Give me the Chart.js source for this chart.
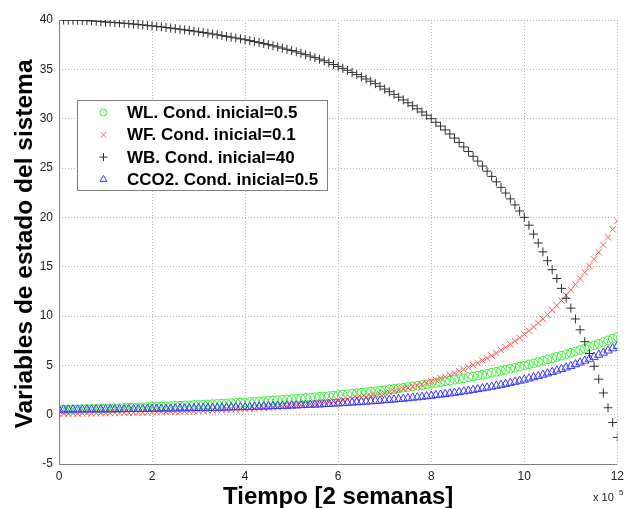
<!DOCTYPE html>
<html lang="es">
<head>
<meta charset="UTF-8">
<title>Variables de estado del sistema</title>
<script src="https://cdn.jsdelivr.net/npm/chart.js@4.4.0/dist/chart.umd.min.js"></script>
<style>
    html, body { margin: 0; padding: 0; background: #ffffff; }
    #grafica { display: block; }
</style>
</head>
<body>
<canvas id="grafica" width="629" height="508"></canvas>
<script>
// tiempo en unidades de 1e5 (2 semanas)
const tiempo = [
    0.0, 0.1, 0.2, 0.3, 0.4, 0.5, 0.6, 0.7, 0.8, 0.9,
    1.0, 1.1, 1.2, 1.3, 1.4, 1.5, 1.6, 1.7, 1.8, 1.9,
    2.0, 2.1, 2.2, 2.3, 2.4, 2.5, 2.6, 2.7, 2.8, 2.9,
    3.0, 3.1, 3.2, 3.3, 3.4, 3.5, 3.6, 3.7, 3.8, 3.9,
    4.0, 4.1, 4.2, 4.3, 4.4, 4.5, 4.6, 4.7, 4.8, 4.9,
    5.0, 5.1, 5.2, 5.3, 5.4, 5.5, 5.6, 5.7, 5.8, 5.9,
    6.0, 6.1, 6.2, 6.3, 6.4, 6.5, 6.6, 6.7, 6.8, 6.9,
    7.0, 7.1, 7.2, 7.3, 7.4, 7.5, 7.6, 7.7, 7.8, 7.9,
    8.0, 8.1, 8.2, 8.3, 8.4, 8.5, 8.6, 8.7, 8.8, 8.9,
    9.0, 9.1, 9.2, 9.3, 9.4, 9.5, 9.6, 9.7, 9.8, 9.9,
    10.0, 10.1, 10.2, 10.3, 10.4, 10.5, 10.6, 10.7, 10.8, 10.9,
    11.0, 11.1, 11.2, 11.3, 11.4, 11.5, 11.6, 11.7, 11.8, 11.9,
    12.0
];

const serieWL = [
    0.50, 0.51, 0.52, 0.54, 0.55, 0.56, 0.57, 0.59, 0.60, 0.61,
    0.63, 0.64, 0.66, 0.67, 0.69, 0.71, 0.72, 0.74, 0.76, 0.77,
    0.79, 0.81, 0.83, 0.85, 0.87, 0.89, 0.91, 0.93, 0.95, 0.97,
    1.00, 1.02, 1.04, 1.07, 1.09, 1.12, 1.14, 1.17, 1.20, 1.22,
    1.25, 1.28, 1.31, 1.34, 1.37, 1.41, 1.44, 1.47, 1.51, 1.54,
    1.58, 1.61, 1.65, 1.69, 1.73, 1.77, 1.81, 1.85, 1.89, 1.94,
    1.98, 2.03, 2.08, 2.13, 2.17, 2.23, 2.28, 2.33, 2.38, 2.44,
    2.50, 2.55, 2.61, 2.68, 2.74, 2.80, 2.87, 2.93, 3.00, 3.07,
    3.14, 3.22, 3.29, 3.37, 3.45, 3.53, 3.61, 3.69, 3.78, 3.87,
    3.96, 4.05, 4.14, 4.24, 4.34, 4.44, 4.54, 4.65, 4.75, 4.87,
    4.98, 5.09, 5.21, 5.33, 5.46, 5.59, 5.72, 5.85, 5.98, 6.12,
    6.27, 6.41, 6.56, 6.71, 6.87, 7.03, 7.19, 7.36, 7.53, 7.71,
    7.89
];

const serieWF = [
    0.10, 0.10, 0.11, 0.11, 0.12, 0.13, 0.13, 0.14, 0.14, 0.15,
    0.16, 0.16, 0.17, 0.18, 0.19, 0.19, 0.20, 0.21, 0.22, 0.23,
    0.24, 0.25, 0.26, 0.28, 0.29, 0.30, 0.31, 0.33, 0.34, 0.36,
    0.37, 0.39, 0.41, 0.43, 0.45, 0.47, 0.49, 0.51, 0.53, 0.56,
    0.58, 0.61, 0.63, 0.66, 0.69, 0.72, 0.76, 0.79, 0.83, 0.86,
    0.90, 0.94, 0.99, 1.03, 1.08, 1.12, 1.17, 1.23, 1.28, 1.34,
    1.40, 1.46, 1.53, 1.60, 1.67, 1.75, 1.82, 1.91, 1.99, 2.08,
    2.17, 2.27, 2.37, 2.48, 2.59, 2.71, 2.83, 2.96, 3.09, 3.23,
    3.38, 3.53, 3.69, 3.85, 4.03, 4.21, 4.40, 4.59, 4.80, 5.02,
    5.24, 5.48, 5.72, 5.98, 6.25, 6.53, 6.83, 7.13, 7.45, 7.79,
    8.14, 8.51, 8.89, 9.29, 9.71, 10.14, 10.60, 11.08, 11.58, 12.10,
    12.64, 13.21, 13.80, 14.42, 15.07, 15.75, 16.46, 17.20, 17.97, 18.78,
    19.63
];

const serieWB = [
    40.00, 40.00, 39.99, 39.98, 39.97, 39.95, 39.93, 39.91, 39.88, 39.84,
    39.80, 39.77, 39.74, 39.71, 39.67, 39.63, 39.59, 39.55, 39.50, 39.45,
    39.40, 39.35, 39.30, 39.24, 39.18, 39.12, 39.06, 39.00, 38.94, 38.87,
    38.80, 38.73, 38.66, 38.58, 38.50, 38.42, 38.34, 38.26, 38.18, 38.09,
    38.00, 37.91, 37.81, 37.71, 37.61, 37.50, 37.39, 37.27, 37.15, 37.03,
    36.90, 36.77, 36.63, 36.49, 36.34, 36.19, 36.03, 35.86, 35.68, 35.49,
    35.30, 35.10, 34.90, 34.69, 34.47, 34.25, 34.02, 33.79, 33.55, 33.28,
    33.00, 32.73, 32.46, 32.18, 31.90, 31.61, 31.31, 31.00, 30.68, 30.35,
    30.00, 29.63, 29.25, 28.86, 28.45, 28.03, 27.59, 27.14, 26.67, 26.19,
    25.70, 25.20, 24.68, 24.15, 23.60, 23.04, 22.46, 21.87, 21.26, 20.64,
    20.00, 19.20, 18.30, 17.40, 16.50, 15.60, 14.70, 13.80, 12.80, 11.80,
    10.80, 9.70, 8.60, 7.40, 6.20, 4.90, 3.60, 2.20, 0.70, -0.80,
    -2.30
];

const serieCCO2 = [
    0.50, 0.50, 0.51, 0.51, 0.51, 0.52, 0.52, 0.52, 0.53, 0.53,
    0.53, 0.54, 0.54, 0.55, 0.55, 0.56, 0.56, 0.57, 0.57, 0.58,
    0.58, 0.59, 0.60, 0.60, 0.61, 0.62, 0.63, 0.63, 0.64, 0.65,
    0.66, 0.67, 0.68, 0.68, 0.69, 0.70, 0.72, 0.73, 0.74, 0.75,
    0.76, 0.77, 0.79, 0.80, 0.82, 0.83, 0.85, 0.86, 0.88, 0.90,
    0.91, 0.93, 0.95, 0.97, 0.99, 1.01, 1.03, 1.06, 1.08, 1.11,
    1.13, 1.16, 1.19, 1.22, 1.25, 1.28, 1.31, 1.34, 1.38, 1.41,
    1.45, 1.49, 1.53, 1.57, 1.61, 1.66, 1.71, 1.75, 1.80, 1.86,
    1.91, 1.97, 2.02, 2.08, 2.15, 2.21, 2.28, 2.35, 2.42, 2.50,
    2.58, 2.66, 2.74, 2.83, 2.92, 3.01, 3.11, 3.21, 3.32, 3.43,
    3.54, 3.66, 3.78, 3.90, 4.04, 4.17, 4.31, 4.46, 4.61, 4.77,
    4.93, 5.10, 5.28, 5.46, 5.65, 5.85, 6.06, 6.27, 6.49, 6.72,
    6.95
];

const nombres = [
    'WL. Cond. inicial=0.5',
    'WF. Cond. inicial=0.1',
    'WB. Cond. inicial=40',
    'CCO2. Cond. inicial=0.5'
];
const ticksX = [0, 2, 4, 6, 8, 10, 12];
const ticksY = [-5, 0, 5, 10, 15, 20, 25, 30, 35, 40];

const FUENTE = "'Liberation Sans', Arial, Helvetica, sans-serif";

function puntos(ys) {
    return ys.map((y, i) => ({ x: tiempo[i], y: y }));
}

// dibuja un marcador suelto (para la leyenda)
function marcador(ctx, tipo, x, y, r, color) {
    ctx.save();
    ctx.strokeStyle = color;
    ctx.lineWidth = 1;
    ctx.beginPath();
    if (tipo === 'circle') {
        ctx.arc(x, y, r, 0, Math.PI * 2);
    } else if (tipo === 'crossRot') {
        const d = r * Math.SQRT1_2;
        ctx.moveTo(x - d, y - d); ctx.lineTo(x + d, y + d);
        ctx.moveTo(x + d, y - d); ctx.lineTo(x - d, y + d);
    } else if (tipo === 'cross') {
        ctx.moveTo(x - r, y); ctx.lineTo(x + r, y);
        ctx.moveTo(x, y - r); ctx.lineTo(x, y + r);
    } else if (tipo === 'triangle') {
        ctx.moveTo(x, y - r);
        ctx.lineTo(x + r * 0.866, y + r * 0.5);
        ctx.lineTo(x - r * 0.866, y + r * 0.5);
        ctx.closePath();
    }
    ctx.stroke();
    ctx.restore();
}

const decoracion = {
    id: 'decoracion',
    afterDatasetsDraw(chart) {
        const { ctx, chartArea: a } = chart;
        ctx.save();

        // ejes solidos izquierda y abajo
        ctx.strokeStyle = '#808080';
        ctx.lineWidth = 1;
        ctx.beginPath();
        ctx.moveTo(a.left + 0.5, a.top);
        ctx.lineTo(a.left + 0.5, a.bottom + 0.5);
        ctx.lineTo(a.right, a.bottom + 0.5);
        ctx.stroke();

        // leyenda
        const lx = 77, ly = 100, lw = 250, lh = 90;
        ctx.fillStyle = '#ffffff';
        ctx.fillRect(lx, ly, lw, lh);
        ctx.strokeStyle = '#808080';
        ctx.strokeRect(lx + 0.5, ly + 0.5, lw, lh);
        ctx.font = 'bold 17px ' + FUENTE;
        ctx.textBaseline = 'middle';
        ctx.textAlign = 'left';
        const tamLeyenda = [3.5, 4, 4, 4];
        chart.data.datasets.forEach((ds, i) => {
            const y = ly + 12.5 + i * 22.3;
            marcador(ctx, ds.pointStyle, 103.5, y, tamLeyenda[i], ds.borderColor);
            ctx.fillStyle = '#000000';
            ctx.fillText(ds.label, 127, y + 1);
        });

        // titulos de ejes
        ctx.fillStyle = '#000000';
        ctx.font = 'bold 24px ' + FUENTE;
        ctx.textAlign = 'center';
        ctx.textBaseline = 'alphabetic';
        ctx.fillText('Tiempo [2 semanas]', (a.left + a.right) / 2, 504);
        ctx.save();
        ctx.translate(31.5, (a.top + a.bottom) / 2 + 2);
        ctx.rotate(-Math.PI / 2);
        ctx.font = 'bold 24.5px ' + FUENTE;
        ctx.fillText('Variables de estado del sistema', 0, 0);
        ctx.restore();

        // factor de escala del eje x
        ctx.fillStyle = '#222222';
        ctx.textAlign = 'left';
        ctx.font = '11px ' + FUENTE;
        ctx.fillText('x 10', 593, 501);
        ctx.font = '8px ' + FUENTE;
        ctx.fillText('5', 619, 495);
        ctx.restore();
    }
};

const rejilla = { color: '#b8b8b8', lineWidth: 1, drawTicks: false };
const borde = { display: false, dash: [1, 2] };

new Chart(document.getElementById('grafica'), {
    type: 'scatter',
    data: {
        datasets: [
            { label: nombres[0], data: puntos(serieWL), pointStyle: 'circle', pointRadius: 4.3,
              borderColor: '#33f033', backgroundColor: 'transparent', pointBorderWidth: 1, order: 4 },
            { label: nombres[1], data: puntos(serieWF), pointStyle: 'crossRot', pointRadius: 4.5,
              borderColor: '#ff5a5a', backgroundColor: 'transparent', pointBorderWidth: 1, order: 3 },
            { label: nombres[2], data: puntos(serieWB), pointStyle: 'cross', pointRadius: 4.5,
              borderColor: '#303030', backgroundColor: 'transparent', pointBorderWidth: 1, order: 2 },
            { label: nombres[3], data: puntos(serieCCO2), pointStyle: 'triangle', pointRadius: 4.8,
              borderColor: '#3a3aff', backgroundColor: 'transparent', pointBorderWidth: 1, order: 1 }
        ]
    },
    options: {
        responsive: false,
        animation: false,
        events: [],
        layout: { padding: { left: 0, right: 8, top: 20, bottom: 0 } },
        plugins: {
            legend: { display: false },
            tooltip: { enabled: false }
        },
        scales: {
            x: {
                type: 'linear',
                min: 0,
                max: 12,
                afterBuildTicks: s => { s.ticks = ticksX.map(v => ({ value: v })); },
                afterFit: s => { s.height = 44; },
                grid: rejilla,
                border: borde,
                ticks: {
                    color: '#222222',
                    padding: 5,
                    maxRotation: 0,
                    autoSkip: false,
                    font: { family: FUENTE, size: 12 }
                }
            },
            y: {
                type: 'linear',
                min: -5,
                max: 40,
                afterBuildTicks: s => { s.ticks = ticksY.map(v => ({ value: v })); },
                afterFit: s => { s.width = 59; },
                grid: rejilla,
                border: borde,
                ticks: {
                    color: '#222222',
                    padding: 6,
                    autoSkip: false,
                    font: { family: FUENTE, size: 12 }
                }
            }
        }
    },
    plugins: [decoracion]
});
</script>
</body>
</html>
